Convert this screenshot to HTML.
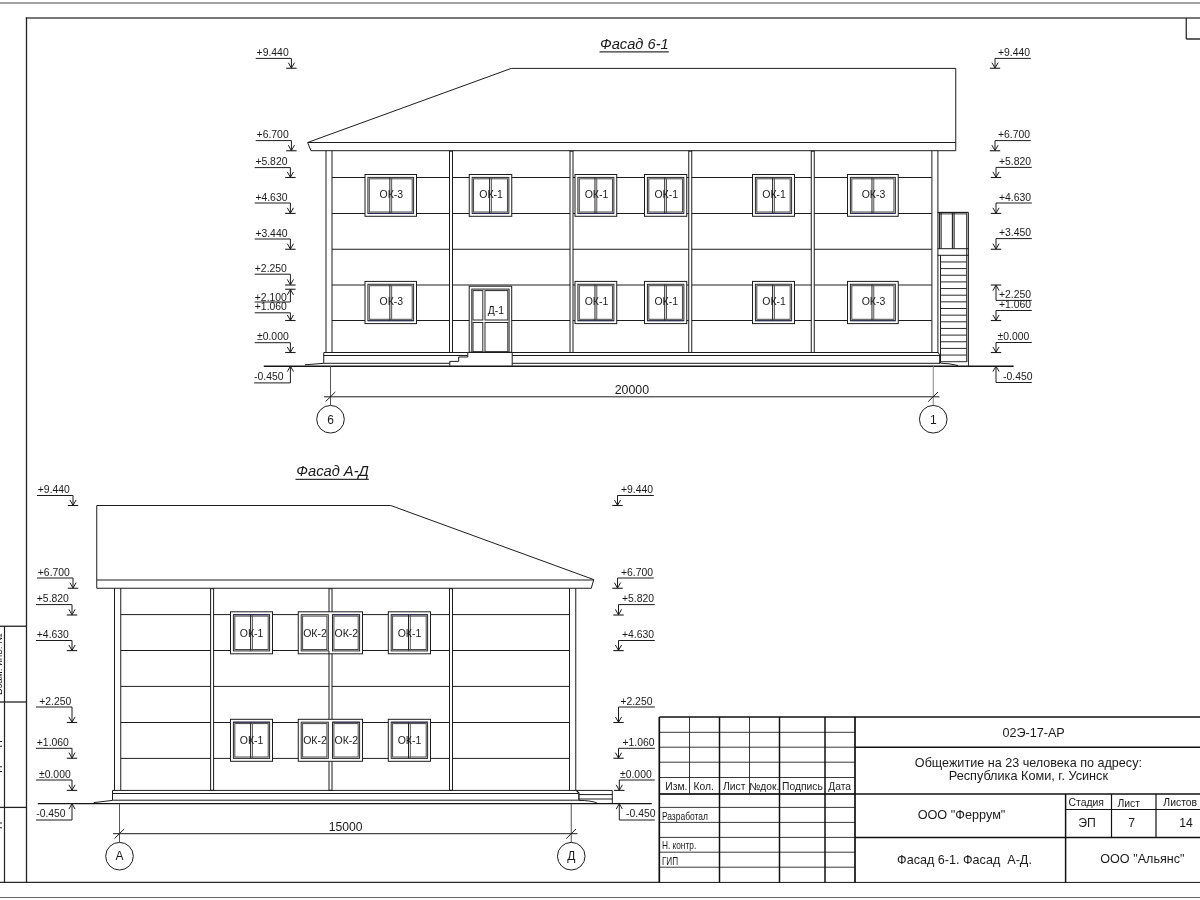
<!DOCTYPE html>
<html lang="ru"><head><meta charset="utf-8"><title>Фасады</title>
<style>
html,body{margin:0;padding:0;background:#fff;}
body{width:1200px;height:900px;overflow:hidden;}
svg{display:block;will-change:transform;}
svg text{font-family:"Liberation Sans",sans-serif;fill:#1a1a1a;}
</style></head><body>
<svg width="1200" height="900" viewBox="0 0 1200 900">
<line x1="0" y1="3" x2="1200" y2="3" stroke="#a3a3a3" stroke-width="1.9" />
<line x1="0" y1="897.5" x2="1200" y2="897.5" stroke="#666" stroke-width="1.1" />
<line x1="25.8" y1="18.1" x2="1200" y2="18.1" stroke="#4a4a4a" stroke-width="1.5" />
<line x1="26.5" y1="17.4" x2="26.5" y2="882.4" stroke="#222" stroke-width="1.3" />
<line x1="0" y1="882.4" x2="1200" y2="882.4" stroke="#2a2a2a" stroke-width="1.3" />
<line x1="1186.25" y1="18" x2="1186.25" y2="39" stroke="#1c1c1c" stroke-width="1.2" />
<line x1="1186.25" y1="39" x2="1200" y2="39" stroke="#1c1c1c" stroke-width="1.4" />
<line x1="4.5" y1="626.25" x2="4.5" y2="882.4" stroke="#222" stroke-width="1.2" />
<line x1="0" y1="626.25" x2="26.5" y2="626.25" stroke="#222" stroke-width="1.3" />
<line x1="0" y1="702" x2="26.5" y2="702" stroke="#222" stroke-width="1.3" />
<line x1="0" y1="807.4" x2="26.5" y2="807.4" stroke="#222" stroke-width="1.3" />
<text transform="translate(1.6,664) rotate(-90)" font-size="10" text-anchor="middle">Взам. инв. №</text>
<text transform="translate(0.4,755) rotate(-90)" font-size="10" text-anchor="middle">Подп. и дата</text>
<text transform="translate(0.4,845) rotate(-90)" font-size="10" text-anchor="middle">Инв. № подл.</text>
<path d="M307.6 142.5 L511.25 68.4 L955.75 68.4 L955.75 150.7 L311 150.7 Z" fill="none" stroke="#1c1c1c" stroke-width="1" stroke-linejoin="miter"/>
<line x1="308" y1="142.5" x2="955.75" y2="142.5" stroke="#1c1c1c" stroke-width="1" />
<line x1="332" y1="177.5" x2="931.75" y2="177.5" stroke="#1c1c1c" stroke-width="1" />
<line x1="332" y1="213.5" x2="931.75" y2="213.5" stroke="#1c1c1c" stroke-width="1" />
<line x1="332" y1="249.25" x2="931.75" y2="249.25" stroke="#1c1c1c" stroke-width="1" />
<line x1="332" y1="285" x2="931.75" y2="285" stroke="#1c1c1c" stroke-width="1" />
<line x1="332" y1="320.5" x2="931.75" y2="320.5" stroke="#1c1c1c" stroke-width="1" />
<line x1="326" y1="150.75" x2="326" y2="352.5" stroke="#1c1c1c" stroke-width="1" />
<line x1="332" y1="150.75" x2="332" y2="352.5" stroke="#1c1c1c" stroke-width="1" />
<line x1="931.9" y1="150.75" x2="931.9" y2="352.5" stroke="#1c1c1c" stroke-width="1" />
<line x1="937.9" y1="150.75" x2="937.9" y2="352.5" stroke="#1c1c1c" stroke-width="1" />
<rect x="449.5" y="151.2" width="3.0" height="201.3" fill="#fff" stroke="#1c1c1c" stroke-width="1"/>
<rect x="570" y="151.2" width="3" height="201.3" fill="#fff" stroke="#1c1c1c" stroke-width="1"/>
<rect x="688.75" y="151.2" width="3.0" height="201.3" fill="#fff" stroke="#1c1c1c" stroke-width="1"/>
<rect x="811.25" y="151.2" width="3.0" height="201.3" fill="#fff" stroke="#1c1c1c" stroke-width="1"/>
<rect x="365" y="174.5" width="51.5" height="41.8" fill="#fff" stroke="#1c1c1c" stroke-width="1"/>
<rect x="367.9" y="177.4" width="45.7" height="36.0" fill="none" stroke="#2a2a2a" stroke-width="1"/>
<rect x="369.3" y="178.8" width="42.9" height="33.2" fill="none" stroke="#484848" stroke-width="1"/>
<line x1="367.9" y1="213.4" x2="413.6" y2="213.4" stroke="#2b2b55" stroke-width="1" />
<line x1="389.85" y1="177.7" x2="389.85" y2="213.10000000000002" stroke="#222" stroke-width="1" />
<line x1="391.65" y1="177.7" x2="391.65" y2="213.10000000000002" stroke="#555" stroke-width="1" />
<text x="391.35" y="198.0" font-size="10.5" text-anchor="middle" >ОК-3</text>
<rect x="469.25" y="174.5" width="42.5" height="41.8" fill="#fff" stroke="#1c1c1c" stroke-width="1"/>
<rect x="472.15" y="177.4" width="36.7" height="36.0" fill="none" stroke="#2a2a2a" stroke-width="1"/>
<rect x="473.55" y="178.8" width="33.9" height="33.2" fill="none" stroke="#484848" stroke-width="1"/>
<line x1="472.15" y1="213.4" x2="508.85" y2="213.4" stroke="#2b2b55" stroke-width="1" />
<line x1="489.6" y1="177.7" x2="489.6" y2="213.10000000000002" stroke="#222" stroke-width="1" />
<line x1="491.4" y1="177.7" x2="491.4" y2="213.10000000000002" stroke="#555" stroke-width="1" />
<text x="491.1" y="198.0" font-size="10.5" text-anchor="middle" >ОК-1</text>
<rect x="575" y="174.5" width="41.75" height="41.8" fill="#fff" stroke="#1c1c1c" stroke-width="1"/>
<rect x="577.9" y="177.4" width="35.95" height="36.0" fill="none" stroke="#2a2a2a" stroke-width="1"/>
<rect x="579.3" y="178.8" width="33.15" height="33.2" fill="none" stroke="#484848" stroke-width="1"/>
<line x1="577.9" y1="213.4" x2="613.85" y2="213.4" stroke="#2b2b55" stroke-width="1" />
<line x1="594.975" y1="177.7" x2="594.975" y2="213.10000000000002" stroke="#222" stroke-width="1" />
<line x1="596.775" y1="177.7" x2="596.775" y2="213.10000000000002" stroke="#555" stroke-width="1" />
<text x="596.48" y="198.0" font-size="10.5" text-anchor="middle" >ОК-1</text>
<rect x="644.5" y="174.5" width="42.25" height="41.8" fill="#fff" stroke="#1c1c1c" stroke-width="1"/>
<rect x="647.4" y="177.4" width="36.45" height="36.0" fill="none" stroke="#2a2a2a" stroke-width="1"/>
<rect x="648.8" y="178.8" width="33.65" height="33.2" fill="none" stroke="#484848" stroke-width="1"/>
<line x1="647.4" y1="213.4" x2="683.85" y2="213.4" stroke="#2b2b55" stroke-width="1" />
<line x1="664.725" y1="177.7" x2="664.725" y2="213.10000000000002" stroke="#222" stroke-width="1" />
<line x1="666.525" y1="177.7" x2="666.525" y2="213.10000000000002" stroke="#555" stroke-width="1" />
<text x="666.23" y="198.0" font-size="10.5" text-anchor="middle" >ОК-1</text>
<rect x="752.5" y="174.5" width="42.0" height="41.8" fill="#fff" stroke="#1c1c1c" stroke-width="1"/>
<rect x="755.4" y="177.4" width="36.2" height="36.0" fill="none" stroke="#2a2a2a" stroke-width="1"/>
<rect x="756.8" y="178.8" width="33.4" height="33.2" fill="none" stroke="#484848" stroke-width="1"/>
<line x1="755.4" y1="213.4" x2="791.6" y2="213.4" stroke="#2b2b55" stroke-width="1" />
<line x1="772.6" y1="177.7" x2="772.6" y2="213.10000000000002" stroke="#222" stroke-width="1" />
<line x1="774.4" y1="177.7" x2="774.4" y2="213.10000000000002" stroke="#555" stroke-width="1" />
<text x="774.1" y="198.0" font-size="10.5" text-anchor="middle" >ОК-1</text>
<rect x="847.5" y="174.5" width="50.75" height="41.8" fill="#fff" stroke="#1c1c1c" stroke-width="1"/>
<rect x="850.4" y="177.4" width="44.95" height="36.0" fill="none" stroke="#2a2a2a" stroke-width="1"/>
<rect x="851.8" y="178.8" width="42.15" height="33.2" fill="none" stroke="#484848" stroke-width="1"/>
<line x1="850.4" y1="213.4" x2="895.35" y2="213.4" stroke="#2b2b55" stroke-width="1" />
<line x1="871.975" y1="177.7" x2="871.975" y2="213.10000000000002" stroke="#222" stroke-width="1" />
<line x1="873.775" y1="177.7" x2="873.775" y2="213.10000000000002" stroke="#555" stroke-width="1" />
<text x="873.48" y="198.0" font-size="10.5" text-anchor="middle" >ОК-3</text>
<rect x="365" y="281.4" width="51.5" height="42.2" fill="#fff" stroke="#1c1c1c" stroke-width="1"/>
<rect x="367.9" y="284.29999999999995" width="45.7" height="36.4" fill="none" stroke="#2a2a2a" stroke-width="1"/>
<rect x="369.3" y="285.7" width="42.9" height="33.6" fill="none" stroke="#484848" stroke-width="1"/>
<line x1="367.9" y1="320.70000000000005" x2="413.6" y2="320.70000000000005" stroke="#2b2b55" stroke-width="1" />
<line x1="389.85" y1="284.59999999999997" x2="389.85" y2="320.40000000000003" stroke="#222" stroke-width="1" />
<line x1="391.65" y1="284.59999999999997" x2="391.65" y2="320.40000000000003" stroke="#555" stroke-width="1" />
<text x="391.35" y="305.1" font-size="10.5" text-anchor="middle" >ОК-3</text>
<rect x="575" y="281.4" width="41.75" height="42.2" fill="#fff" stroke="#1c1c1c" stroke-width="1"/>
<rect x="577.9" y="284.29999999999995" width="35.95" height="36.4" fill="none" stroke="#2a2a2a" stroke-width="1"/>
<rect x="579.3" y="285.7" width="33.15" height="33.6" fill="none" stroke="#484848" stroke-width="1"/>
<line x1="577.9" y1="320.70000000000005" x2="613.85" y2="320.70000000000005" stroke="#2b2b55" stroke-width="1" />
<line x1="594.975" y1="284.59999999999997" x2="594.975" y2="320.40000000000003" stroke="#222" stroke-width="1" />
<line x1="596.775" y1="284.59999999999997" x2="596.775" y2="320.40000000000003" stroke="#555" stroke-width="1" />
<text x="596.48" y="305.1" font-size="10.5" text-anchor="middle" >ОК-1</text>
<rect x="644.5" y="281.4" width="42.25" height="42.2" fill="#fff" stroke="#1c1c1c" stroke-width="1"/>
<rect x="647.4" y="284.29999999999995" width="36.45" height="36.4" fill="none" stroke="#2a2a2a" stroke-width="1"/>
<rect x="648.8" y="285.7" width="33.65" height="33.6" fill="none" stroke="#484848" stroke-width="1"/>
<line x1="647.4" y1="320.70000000000005" x2="683.85" y2="320.70000000000005" stroke="#2b2b55" stroke-width="1" />
<line x1="664.725" y1="284.59999999999997" x2="664.725" y2="320.40000000000003" stroke="#222" stroke-width="1" />
<line x1="666.525" y1="284.59999999999997" x2="666.525" y2="320.40000000000003" stroke="#555" stroke-width="1" />
<text x="666.23" y="305.1" font-size="10.5" text-anchor="middle" >ОК-1</text>
<rect x="752.5" y="281.4" width="42.0" height="42.2" fill="#fff" stroke="#1c1c1c" stroke-width="1"/>
<rect x="755.4" y="284.29999999999995" width="36.2" height="36.4" fill="none" stroke="#2a2a2a" stroke-width="1"/>
<rect x="756.8" y="285.7" width="33.4" height="33.6" fill="none" stroke="#484848" stroke-width="1"/>
<line x1="755.4" y1="320.70000000000005" x2="791.6" y2="320.70000000000005" stroke="#2b2b55" stroke-width="1" />
<line x1="772.6" y1="284.59999999999997" x2="772.6" y2="320.40000000000003" stroke="#222" stroke-width="1" />
<line x1="774.4" y1="284.59999999999997" x2="774.4" y2="320.40000000000003" stroke="#555" stroke-width="1" />
<text x="774.1" y="305.1" font-size="10.5" text-anchor="middle" >ОК-1</text>
<rect x="847.5" y="281.4" width="50.75" height="42.2" fill="#fff" stroke="#1c1c1c" stroke-width="1"/>
<rect x="850.4" y="284.29999999999995" width="44.95" height="36.4" fill="none" stroke="#2a2a2a" stroke-width="1"/>
<rect x="851.8" y="285.7" width="42.15" height="33.6" fill="none" stroke="#484848" stroke-width="1"/>
<line x1="850.4" y1="320.70000000000005" x2="895.35" y2="320.70000000000005" stroke="#2b2b55" stroke-width="1" />
<line x1="871.975" y1="284.59999999999997" x2="871.975" y2="320.40000000000003" stroke="#222" stroke-width="1" />
<line x1="873.775" y1="284.59999999999997" x2="873.775" y2="320.40000000000003" stroke="#555" stroke-width="1" />
<text x="873.48" y="305.1" font-size="10.5" text-anchor="middle" >ОК-3</text>
<rect x="469.2" y="286.2" width="42.5" height="66.1" fill="#fff" stroke="#1c1c1c" stroke-width="1"/>
<rect x="471.8" y="289.1" width="37.3" height="63.2" fill="none" stroke="#222" stroke-width="1"/>
<rect x="473" y="290.6" width="9.8" height="29.4" fill="none" stroke="#2a2a2a" stroke-width="1"/>
<rect x="473" y="322.5" width="9.8" height="29.2" fill="none" stroke="#2a2a2a" stroke-width="1"/>
<rect x="485" y="290.6" width="22.8" height="29.4" fill="none" stroke="#2a2a2a" stroke-width="1"/>
<rect x="485" y="322.5" width="22.8" height="29.2" fill="none" stroke="#2a2a2a" stroke-width="1"/>
<text x="495.8" y="313.7" font-size="10.4" text-anchor="middle" >Д-1</text>
<line x1="323.75" y1="352.5" x2="467.8" y2="352.5" stroke="#1c1c1c" stroke-width="1" />
<line x1="512.2" y1="352.5" x2="938.5" y2="352.5" stroke="#1c1c1c" stroke-width="1" />
<line x1="323.75" y1="352.5" x2="323.75" y2="363.3" stroke="#1c1c1c" stroke-width="1" />
<line x1="323.75" y1="355.5" x2="467.5" y2="355.5" stroke="#1c1c1c" stroke-width="1" />
<line x1="512.2" y1="355.5" x2="940" y2="355.5" stroke="#1c1c1c" stroke-width="1" />
<line x1="323.75" y1="363.3" x2="449.8" y2="363.3" stroke="#1c1c1c" stroke-width="1" />
<line x1="512.2" y1="363.3" x2="940" y2="363.3" stroke="#1c1c1c" stroke-width="1" />
<line x1="940" y1="355" x2="940" y2="363.3" stroke="#111" stroke-width="1.6" />
<path d="M938 352.5 L940 355.5" fill="none" stroke="#1c1c1c" stroke-width="1" stroke-linejoin="miter"/>
<path d="M305 364.8 L323.75 363.3" fill="none" stroke="#1c1c1c" stroke-width="1" stroke-linejoin="miter"/>
<path d="M940.5 363.2 L949 363.8 L958 365.5" fill="none" stroke="#1c1c1c" stroke-width="1" stroke-linejoin="miter"/>
<path d="M467.8 352.4 L512.2 352.4 L512.2 365.8" fill="none" stroke="#1c1c1c" stroke-width="1" stroke-linejoin="miter"/>
<path d="M467.8 352.4 L467.8 357 L458.7 357 L458.7 361.4 L449.8 361.4 L449.8 365.8" fill="none" stroke="#1c1c1c" stroke-width="1" stroke-linejoin="miter"/>
<line x1="263.75" y1="366.3" x2="1013.6" y2="366.3" stroke="#151515" stroke-width="1.45" />
<line x1="937.7" y1="212.5" x2="968.5" y2="212.5" stroke="#1c1c1c" stroke-width="1.3" />
<line x1="939.5" y1="213.9" x2="966.8" y2="213.9" stroke="#444" stroke-width="1" />
<line x1="968.5" y1="212.5" x2="968.5" y2="366" stroke="#333" stroke-width="1" />
<line x1="966.8" y1="213.5" x2="966.8" y2="362" stroke="#222" stroke-width="1.2" />
<line x1="939.4" y1="213" x2="939.4" y2="248.7" stroke="#1e1e1e" stroke-width="1.1" />
<line x1="941.1" y1="213" x2="941.1" y2="248.7" stroke="#1e1e1e" stroke-width="1.1" />
<line x1="952.4" y1="213" x2="952.4" y2="248.7" stroke="#1e1e1e" stroke-width="1.1" />
<line x1="954.1" y1="213" x2="954.1" y2="248.7" stroke="#1e1e1e" stroke-width="1.1" />
<line x1="937.7" y1="248.7" x2="968.5" y2="248.7" stroke="#1c1c1c" stroke-width="1" />
<line x1="937.7" y1="255.3" x2="968.5" y2="255.3" stroke="#1c1c1c" stroke-width="1" />
<line x1="940.5" y1="255.3" x2="940.5" y2="363" stroke="#1c1c1c" stroke-width="1" />
<line x1="940.5" y1="261.95" x2="966.8" y2="261.95" stroke="#2a2a2a" stroke-width="1" />
<line x1="940.5" y1="268.6" x2="966.8" y2="268.6" stroke="#2a2a2a" stroke-width="1" />
<line x1="940.5" y1="275.25" x2="966.8" y2="275.25" stroke="#2a2a2a" stroke-width="1" />
<line x1="940.5" y1="281.9" x2="966.8" y2="281.9" stroke="#2a2a2a" stroke-width="1" />
<line x1="940.5" y1="288.55" x2="966.8" y2="288.55" stroke="#2a2a2a" stroke-width="1" />
<line x1="940.5" y1="295.2" x2="966.8" y2="295.2" stroke="#2a2a2a" stroke-width="1" />
<line x1="940.5" y1="301.85" x2="966.8" y2="301.85" stroke="#2a2a2a" stroke-width="1" />
<line x1="940.5" y1="308.5" x2="966.8" y2="308.5" stroke="#2a2a2a" stroke-width="1" />
<line x1="940.5" y1="315.15" x2="966.8" y2="315.15" stroke="#2a2a2a" stroke-width="1" />
<line x1="940.5" y1="321.8" x2="966.8" y2="321.8" stroke="#2a2a2a" stroke-width="1" />
<line x1="940.5" y1="328.45" x2="966.8" y2="328.45" stroke="#2a2a2a" stroke-width="1" />
<line x1="940.5" y1="335.1" x2="966.8" y2="335.1" stroke="#2a2a2a" stroke-width="1" />
<line x1="940.5" y1="341.75" x2="966.8" y2="341.75" stroke="#2a2a2a" stroke-width="1" />
<line x1="940.5" y1="348.4" x2="966.8" y2="348.4" stroke="#2a2a2a" stroke-width="1" />
<line x1="940.5" y1="355.05" x2="966.8" y2="355.05" stroke="#2a2a2a" stroke-width="1" />
<line x1="940.5" y1="361.7" x2="966.8" y2="361.7" stroke="#2a2a2a" stroke-width="1" />
<line x1="255.7" y1="58.4" x2="291.4" y2="58.4" stroke="#1c1c1c" stroke-width="1" />
<line x1="291.4" y1="58.4" x2="291.4" y2="68.25" stroke="#1c1c1c" stroke-width="1" />
<line x1="286.2" y1="68.25" x2="296.59999999999997" y2="68.25" stroke="#1c1c1c" stroke-width="1.1" />
<path d="M288.29999999999995 62.65 L291.4 68.05 L294.5 62.65" fill="none" stroke="#1c1c1c" stroke-width="1" stroke-linejoin="miter"/>
<text x="256.6" y="56.0" font-size="10.4" text-anchor="start" >+9.440</text>
<line x1="255.7" y1="140.6" x2="291.4" y2="140.6" stroke="#1c1c1c" stroke-width="1" />
<line x1="291.4" y1="140.6" x2="291.4" y2="150.75" stroke="#1c1c1c" stroke-width="1" />
<line x1="286.2" y1="150.75" x2="296.59999999999997" y2="150.75" stroke="#1c1c1c" stroke-width="1.1" />
<path d="M288.29999999999995 145.15 L291.4 150.55 L294.5 145.15" fill="none" stroke="#1c1c1c" stroke-width="1" stroke-linejoin="miter"/>
<text x="256.6" y="138.2" font-size="10.4" text-anchor="start" >+6.700</text>
<line x1="254.7" y1="167.6" x2="290.4" y2="167.6" stroke="#1c1c1c" stroke-width="1" />
<line x1="290.4" y1="167.6" x2="290.4" y2="177.5" stroke="#1c1c1c" stroke-width="1" />
<line x1="285.2" y1="177.5" x2="295.59999999999997" y2="177.5" stroke="#1c1c1c" stroke-width="1.1" />
<path d="M287.29999999999995 171.9 L290.4 177.3 L293.5 171.9" fill="none" stroke="#1c1c1c" stroke-width="1" stroke-linejoin="miter"/>
<text x="255.4" y="165.2" font-size="10.4" text-anchor="start" >+5.820</text>
<line x1="254.7" y1="203.0" x2="290.4" y2="203.0" stroke="#1c1c1c" stroke-width="1" />
<line x1="290.4" y1="203.0" x2="290.4" y2="213.4" stroke="#1c1c1c" stroke-width="1" />
<line x1="285.2" y1="213.4" x2="295.59999999999997" y2="213.4" stroke="#1c1c1c" stroke-width="1.1" />
<path d="M287.29999999999995 207.8 L290.4 213.20000000000002 L293.5 207.8" fill="none" stroke="#1c1c1c" stroke-width="1" stroke-linejoin="miter"/>
<text x="255.4" y="200.6" font-size="10.4" text-anchor="start" >+4.630</text>
<line x1="254.7" y1="239.0" x2="290.4" y2="239.0" stroke="#1c1c1c" stroke-width="1" />
<line x1="290.4" y1="239.0" x2="290.4" y2="249.25" stroke="#1c1c1c" stroke-width="1" />
<line x1="285.2" y1="249.25" x2="295.59999999999997" y2="249.25" stroke="#1c1c1c" stroke-width="1.1" />
<path d="M287.29999999999995 243.65 L290.4 249.05 L293.5 243.65" fill="none" stroke="#1c1c1c" stroke-width="1" stroke-linejoin="miter"/>
<text x="255.4" y="236.6" font-size="10.4" text-anchor="start" >+3.440</text>
<line x1="254.7" y1="274.2" x2="290.4" y2="274.2" stroke="#1c1c1c" stroke-width="1" />
<line x1="290.4" y1="274.2" x2="290.4" y2="285" stroke="#1c1c1c" stroke-width="1" />
<line x1="285.2" y1="285" x2="295.59999999999997" y2="285" stroke="#1c1c1c" stroke-width="1.1" />
<path d="M287.29999999999995 279.4 L290.4 284.8 L293.5 279.4" fill="none" stroke="#1c1c1c" stroke-width="1" stroke-linejoin="miter"/>
<text x="254.8" y="271.8" font-size="10.4" text-anchor="start" >+2.250</text>
<line x1="254.7" y1="312.8" x2="290.4" y2="312.8" stroke="#1c1c1c" stroke-width="1" />
<line x1="290.4" y1="312.8" x2="290.4" y2="320.5" stroke="#1c1c1c" stroke-width="1" />
<line x1="285.2" y1="320.5" x2="295.59999999999997" y2="320.5" stroke="#1c1c1c" stroke-width="1.1" />
<path d="M287.29999999999995 314.9 L290.4 320.3 L293.5 314.9" fill="none" stroke="#1c1c1c" stroke-width="1" stroke-linejoin="miter"/>
<text x="254.8" y="310.4" font-size="10.4" text-anchor="start" >+1.060</text>
<line x1="254.7" y1="342.7" x2="290.4" y2="342.7" stroke="#1c1c1c" stroke-width="1" />
<line x1="290.4" y1="342.7" x2="290.4" y2="352.5" stroke="#1c1c1c" stroke-width="1" />
<line x1="285.2" y1="352.5" x2="295.59999999999997" y2="352.5" stroke="#1c1c1c" stroke-width="1.1" />
<path d="M287.29999999999995 346.9 L290.4 352.3 L293.5 346.9" fill="none" stroke="#1c1c1c" stroke-width="1" stroke-linejoin="miter"/>
<text x="257" y="340.3" font-size="10.4" text-anchor="start" >±0.000</text>
<line x1="254.7" y1="302.0" x2="290.4" y2="302.0" stroke="#1c1c1c" stroke-width="1" />
<line x1="290.4" y1="302.0" x2="290.4" y2="289.25" stroke="#1c1c1c" stroke-width="1" />
<line x1="285.2" y1="289.25" x2="295.59999999999997" y2="289.25" stroke="#1c1c1c" stroke-width="1.1" />
<path d="M287.29999999999995 294.85 L290.4 289.45 L293.5 294.85" fill="none" stroke="#1c1c1c" stroke-width="1" stroke-linejoin="miter"/>
<text x="254.8" y="300.6" font-size="10.4" text-anchor="start" >+2.100</text>
<line x1="254.2" y1="382.9" x2="290.4" y2="382.9" stroke="#1c1c1c" stroke-width="1" />
<line x1="290.4" y1="382.9" x2="290.4" y2="366" stroke="#1c1c1c" stroke-width="1" />
<path d="M287.29999999999995 371.6 L290.4 366.2 L293.5 371.6" fill="none" stroke="#1c1c1c" stroke-width="1" stroke-linejoin="miter"/>
<text x="254" y="380.3" font-size="10.4" text-anchor="start" >-0.450</text>
<line x1="995" y1="58.4" x2="1030.8" y2="58.4" stroke="#1c1c1c" stroke-width="1" />
<line x1="995" y1="58.4" x2="995" y2="68.25" stroke="#1c1c1c" stroke-width="1" />
<line x1="989.8" y1="68.25" x2="1000.2" y2="68.25" stroke="#1c1c1c" stroke-width="1.1" />
<path d="M991.9 62.65 L995 68.05 L998.1 62.65" fill="none" stroke="#1c1c1c" stroke-width="1" stroke-linejoin="miter"/>
<text x="998" y="56.0" font-size="10.4" text-anchor="start" >+9.440</text>
<line x1="995" y1="140.6" x2="1030.8" y2="140.6" stroke="#1c1c1c" stroke-width="1" />
<line x1="995" y1="140.6" x2="995" y2="150.75" stroke="#1c1c1c" stroke-width="1" />
<line x1="989.8" y1="150.75" x2="1000.2" y2="150.75" stroke="#1c1c1c" stroke-width="1.1" />
<path d="M991.9 145.15 L995 150.55 L998.1 145.15" fill="none" stroke="#1c1c1c" stroke-width="1" stroke-linejoin="miter"/>
<text x="998" y="138.2" font-size="10.4" text-anchor="start" >+6.700</text>
<line x1="996" y1="167.4" x2="1031.8" y2="167.4" stroke="#1c1c1c" stroke-width="1" />
<line x1="996" y1="167.4" x2="996" y2="177.5" stroke="#1c1c1c" stroke-width="1" />
<line x1="990.8" y1="177.5" x2="1001.2" y2="177.5" stroke="#1c1c1c" stroke-width="1.1" />
<path d="M992.9 171.9 L996 177.3 L999.1 171.9" fill="none" stroke="#1c1c1c" stroke-width="1" stroke-linejoin="miter"/>
<text x="999" y="165.0" font-size="10.4" text-anchor="start" >+5.820</text>
<line x1="996" y1="203.0" x2="1031.8" y2="203.0" stroke="#1c1c1c" stroke-width="1" />
<line x1="996" y1="203.0" x2="996" y2="213.4" stroke="#1c1c1c" stroke-width="1" />
<line x1="990.8" y1="213.4" x2="1001.2" y2="213.4" stroke="#1c1c1c" stroke-width="1.1" />
<path d="M992.9 207.8 L996 213.20000000000002 L999.1 207.8" fill="none" stroke="#1c1c1c" stroke-width="1" stroke-linejoin="miter"/>
<text x="999" y="200.6" font-size="10.4" text-anchor="start" >+4.630</text>
<line x1="996" y1="238.6" x2="1031.8" y2="238.6" stroke="#1c1c1c" stroke-width="1" />
<line x1="996" y1="238.6" x2="996" y2="249.25" stroke="#1c1c1c" stroke-width="1" />
<line x1="990.8" y1="249.25" x2="1001.2" y2="249.25" stroke="#1c1c1c" stroke-width="1.1" />
<path d="M992.9 243.65 L996 249.05 L999.1 243.65" fill="none" stroke="#1c1c1c" stroke-width="1" stroke-linejoin="miter"/>
<text x="999" y="236.2" font-size="10.4" text-anchor="start" >+3.450</text>
<line x1="996" y1="310.5" x2="1031.8" y2="310.5" stroke="#1c1c1c" stroke-width="1" />
<line x1="996" y1="310.5" x2="996" y2="320.5" stroke="#1c1c1c" stroke-width="1" />
<line x1="990.8" y1="320.5" x2="1001.2" y2="320.5" stroke="#1c1c1c" stroke-width="1.1" />
<path d="M992.9 314.9 L996 320.3 L999.1 314.9" fill="none" stroke="#1c1c1c" stroke-width="1" stroke-linejoin="miter"/>
<text x="999" y="308.1" font-size="10.4" text-anchor="start" >+1.060</text>
<line x1="996" y1="342.5" x2="1031.8" y2="342.5" stroke="#1c1c1c" stroke-width="1" />
<line x1="996" y1="342.5" x2="996" y2="352.5" stroke="#1c1c1c" stroke-width="1" />
<line x1="990.8" y1="352.5" x2="1001.2" y2="352.5" stroke="#1c1c1c" stroke-width="1.1" />
<path d="M992.9 346.9 L996 352.3 L999.1 346.9" fill="none" stroke="#1c1c1c" stroke-width="1" stroke-linejoin="miter"/>
<text x="997.6" y="340.1" font-size="10.4" text-anchor="start" >±0.000</text>
<line x1="996" y1="300.4" x2="1031.8" y2="300.4" stroke="#1c1c1c" stroke-width="1" />
<line x1="996" y1="300.4" x2="996" y2="285" stroke="#1c1c1c" stroke-width="1" />
<line x1="990.8" y1="285" x2="1001.2" y2="285" stroke="#1c1c1c" stroke-width="1.1" />
<path d="M992.9 290.6 L996 285.2 L999.1 290.6" fill="none" stroke="#1c1c1c" stroke-width="1" stroke-linejoin="miter"/>
<text x="999" y="298.4" font-size="10.4" text-anchor="start" >+2.250</text>
<line x1="996" y1="382.5" x2="1031.8" y2="382.5" stroke="#1c1c1c" stroke-width="1" />
<line x1="996" y1="382.5" x2="996" y2="366" stroke="#1c1c1c" stroke-width="1" />
<path d="M992.9 371.6 L996 366.2 L999.1 371.6" fill="none" stroke="#1c1c1c" stroke-width="1" stroke-linejoin="miter"/>
<text x="1003" y="379.9" font-size="10.4" text-anchor="start" >-0.450</text>
<line x1="324" y1="396.8" x2="939.5" y2="396.8" stroke="#1c1c1c" stroke-width="1" />
<line x1="330.5" y1="366" x2="330.5" y2="405.5" stroke="#444" stroke-width="0.9" />
<line x1="933.25" y1="366" x2="933.25" y2="405.5" stroke="#777" stroke-width="0.9" />
<path d="M325.5 401.6 L335.3 392" fill="none" stroke="#1c1c1c" stroke-width="1" stroke-linejoin="miter"/>
<path d="M928.2 401.6 L938 392" fill="none" stroke="#1c1c1c" stroke-width="1" stroke-linejoin="miter"/>
<text x="631.9" y="393.8" font-size="12.4" text-anchor="middle" >20000</text>
<circle cx="330.5" cy="419.25" r="13.8" fill="#fff" stroke="#1c1c1c" stroke-width="1"/>
<text x="330.5" y="423.5" font-size="12" text-anchor="middle" >6</text>
<circle cx="933.25" cy="419.25" r="13.8" fill="#fff" stroke="#1c1c1c" stroke-width="1"/>
<text x="933.25" y="423.5" font-size="12" text-anchor="middle" >1</text>
<text x="600" y="48.8" font-size="14.7" text-anchor="start" font-style="italic">Фасад 6-1</text>
<line x1="599.5" y1="51.9" x2="668.8" y2="51.9" stroke="#333" stroke-width="1.2" />
<path d="M96.75 505.5 L390.75 505.5 L593.75 579.6 L591.25 588.25 L96.75 588.25 Z" fill="none" stroke="#1c1c1c" stroke-width="1" stroke-linejoin="miter"/>
<line x1="96.75" y1="580" x2="593.5" y2="580" stroke="#1c1c1c" stroke-width="1" />
<line x1="120.75" y1="614.6" x2="569.5" y2="614.6" stroke="#1c1c1c" stroke-width="1" />
<line x1="120.75" y1="650.5" x2="569.5" y2="650.5" stroke="#1c1c1c" stroke-width="1" />
<line x1="120.75" y1="686.4" x2="569.5" y2="686.4" stroke="#1c1c1c" stroke-width="1" />
<line x1="120.75" y1="722.5" x2="569.5" y2="722.5" stroke="#1c1c1c" stroke-width="1" />
<line x1="120.75" y1="758.4" x2="569.5" y2="758.4" stroke="#1c1c1c" stroke-width="1" />
<line x1="114.5" y1="588.25" x2="114.5" y2="790.3" stroke="#1c1c1c" stroke-width="1" />
<line x1="120.75" y1="588.25" x2="120.75" y2="790.3" stroke="#1c1c1c" stroke-width="1" />
<line x1="569.5" y1="588.25" x2="569.5" y2="790.3" stroke="#1c1c1c" stroke-width="1" />
<line x1="575.75" y1="588.25" x2="575.75" y2="790.3" stroke="#1c1c1c" stroke-width="1" />
<rect x="210.6" y="588.7" width="3.0" height="201.6" fill="#fff" stroke="#1c1c1c" stroke-width="1"/>
<rect x="329" y="588.7" width="3" height="201.6" fill="#fff" stroke="#1c1c1c" stroke-width="1"/>
<rect x="449.5" y="588.7" width="3.0" height="201.6" fill="#fff" stroke="#1c1c1c" stroke-width="1"/>
<rect x="230.5" y="611.8" width="42.0" height="42.0" fill="#fff" stroke="#1c1c1c" stroke-width="1"/>
<rect x="233.4" y="614.6999999999999" width="36.2" height="36.2" fill="none" stroke="#2a2a2a" stroke-width="1"/>
<rect x="234.8" y="616.0999999999999" width="33.4" height="33.4" fill="none" stroke="#484848" stroke-width="1"/>
<line x1="233.4" y1="614.6999999999999" x2="269.6" y2="614.6999999999999" stroke="#2b2b55" stroke-width="1" />
<line x1="250.6" y1="615.0" x2="250.6" y2="650.5999999999999" stroke="#222" stroke-width="1" />
<line x1="252.4" y1="615.0" x2="252.4" y2="650.5999999999999" stroke="#555" stroke-width="1" />
<text x="251.6" y="636.5" font-size="10.5" text-anchor="middle" >ОК-1</text>
<rect x="388.3" y="611.8" width="42.2" height="42.0" fill="#fff" stroke="#1c1c1c" stroke-width="1"/>
<rect x="391.2" y="614.6999999999999" width="36.4" height="36.2" fill="none" stroke="#2a2a2a" stroke-width="1"/>
<rect x="392.6" y="616.0999999999999" width="33.6" height="33.4" fill="none" stroke="#484848" stroke-width="1"/>
<line x1="391.2" y1="614.6999999999999" x2="427.6" y2="614.6999999999999" stroke="#2b2b55" stroke-width="1" />
<line x1="408.5" y1="615.0" x2="408.5" y2="650.5999999999999" stroke="#222" stroke-width="1" />
<line x1="410.29999999999995" y1="615.0" x2="410.29999999999995" y2="650.5999999999999" stroke="#555" stroke-width="1" />
<text x="409.5" y="636.5" font-size="10.5" text-anchor="middle" >ОК-1</text>
<rect x="298.25" y="611.8" width="64.25" height="42.0" fill="#fff" stroke="#1c1c1c" stroke-width="1"/>
<rect x="301.2" y="614.6999999999999" width="27.1" height="36.2" fill="none" stroke="#2a2a2a" stroke-width="1"/>
<rect x="302.59999999999997" y="616.0999999999999" width="24.3" height="33.4" fill="none" stroke="#484848" stroke-width="1"/>
<text x="315" y="636.5" font-size="10.5" text-anchor="middle" >ОК-2</text>
<rect x="332.5" y="614.6999999999999" width="27.1" height="36.2" fill="none" stroke="#2a2a2a" stroke-width="1"/>
<rect x="333.9" y="616.0999999999999" width="24.3" height="33.4" fill="none" stroke="#484848" stroke-width="1"/>
<line x1="332.5" y1="614.6999999999999" x2="359.6" y2="614.6999999999999" stroke="#2b2b55" stroke-width="1" />
<text x="346.3" y="636.5" font-size="10.5" text-anchor="middle" >ОК-2</text>
<rect x="230.5" y="719.3" width="42.0" height="42.0" fill="#fff" stroke="#1c1c1c" stroke-width="1"/>
<rect x="233.4" y="722.1999999999999" width="36.2" height="36.2" fill="none" stroke="#2a2a2a" stroke-width="1"/>
<rect x="234.8" y="723.5999999999999" width="33.4" height="33.4" fill="none" stroke="#484848" stroke-width="1"/>
<line x1="233.4" y1="722.1999999999999" x2="269.6" y2="722.1999999999999" stroke="#2b2b55" stroke-width="1" />
<line x1="250.6" y1="722.5" x2="250.6" y2="758.0999999999999" stroke="#222" stroke-width="1" />
<line x1="252.4" y1="722.5" x2="252.4" y2="758.0999999999999" stroke="#555" stroke-width="1" />
<text x="251.6" y="744.0" font-size="10.5" text-anchor="middle" >ОК-1</text>
<rect x="388.3" y="719.3" width="42.2" height="42.0" fill="#fff" stroke="#1c1c1c" stroke-width="1"/>
<rect x="391.2" y="722.1999999999999" width="36.4" height="36.2" fill="none" stroke="#2a2a2a" stroke-width="1"/>
<rect x="392.6" y="723.5999999999999" width="33.6" height="33.4" fill="none" stroke="#484848" stroke-width="1"/>
<line x1="391.2" y1="722.1999999999999" x2="427.6" y2="722.1999999999999" stroke="#2b2b55" stroke-width="1" />
<line x1="408.5" y1="722.5" x2="408.5" y2="758.0999999999999" stroke="#222" stroke-width="1" />
<line x1="410.29999999999995" y1="722.5" x2="410.29999999999995" y2="758.0999999999999" stroke="#555" stroke-width="1" />
<text x="409.5" y="744.0" font-size="10.5" text-anchor="middle" >ОК-1</text>
<rect x="298.25" y="719.3" width="64.25" height="42.0" fill="#fff" stroke="#1c1c1c" stroke-width="1"/>
<rect x="301.2" y="722.1999999999999" width="27.1" height="36.2" fill="none" stroke="#2a2a2a" stroke-width="1"/>
<rect x="302.59999999999997" y="723.5999999999999" width="24.3" height="33.4" fill="none" stroke="#484848" stroke-width="1"/>
<text x="315" y="744.0" font-size="10.5" text-anchor="middle" >ОК-2</text>
<rect x="332.5" y="722.1999999999999" width="27.1" height="36.2" fill="none" stroke="#2a2a2a" stroke-width="1"/>
<rect x="333.9" y="723.5999999999999" width="24.3" height="33.4" fill="none" stroke="#484848" stroke-width="1"/>
<line x1="332.5" y1="722.1999999999999" x2="359.6" y2="722.1999999999999" stroke="#2b2b55" stroke-width="1" />
<text x="346.3" y="744.0" font-size="10.5" text-anchor="middle" >ОК-2</text>
<line x1="329" y1="650.9" x2="329" y2="653.8" stroke="#1c1c1c" stroke-width="1" />
<line x1="112.5" y1="790.4" x2="612.3" y2="790.4" stroke="#1c1c1c" stroke-width="1" />
<line x1="112.5" y1="790.4" x2="112.5" y2="800.4" stroke="#1c1c1c" stroke-width="1" />
<line x1="112.5" y1="793.5" x2="578.2" y2="793.5" stroke="#1c1c1c" stroke-width="1" />
<line x1="112.5" y1="800.2" x2="578.9" y2="800.2" stroke="#1c1c1c" stroke-width="1" />
<path d="M576.3 790.4 L578.9 793 L578.9 800.2" fill="none" stroke="#111" stroke-width="1.3" stroke-linejoin="miter"/>
<line x1="578.9" y1="794.6" x2="612.3" y2="794.6" stroke="#1c1c1c" stroke-width="1" />
<line x1="578.9" y1="799" x2="612.3" y2="799" stroke="#1c1c1c" stroke-width="1" />
<line x1="612.3" y1="790.4" x2="612.3" y2="803.4" stroke="#1c1c1c" stroke-width="1" />
<path d="M93.75 802.6 L112.5 800.4" fill="none" stroke="#1c1c1c" stroke-width="1" stroke-linejoin="miter"/>
<path d="M578.9 800.4 Q590 800.4 596.8 802.8" fill="none" stroke="#1c1c1c" stroke-width="1"/>
<line x1="37.8" y1="803.6" x2="651.8" y2="803.6" stroke="#151515" stroke-width="1.45" />
<line x1="37" y1="495.5" x2="73" y2="495.5" stroke="#1c1c1c" stroke-width="1" />
<line x1="73" y1="495.5" x2="73" y2="505.5" stroke="#1c1c1c" stroke-width="1" />
<line x1="67.8" y1="505.5" x2="78.2" y2="505.5" stroke="#1c1c1c" stroke-width="1.1" />
<path d="M69.9 499.9 L73 505.3 L76.1 499.9" fill="none" stroke="#1c1c1c" stroke-width="1" stroke-linejoin="miter"/>
<text x="37.8" y="493.1" font-size="10.4" text-anchor="start" >+9.440</text>
<line x1="37" y1="578.0" x2="73" y2="578.0" stroke="#1c1c1c" stroke-width="1" />
<line x1="73" y1="578.0" x2="73" y2="588.25" stroke="#1c1c1c" stroke-width="1" />
<line x1="67.8" y1="588.25" x2="78.2" y2="588.25" stroke="#1c1c1c" stroke-width="1.1" />
<path d="M69.9 582.65 L73 588.05 L76.1 582.65" fill="none" stroke="#1c1c1c" stroke-width="1" stroke-linejoin="miter"/>
<text x="37.8" y="575.6" font-size="10.4" text-anchor="start" >+6.700</text>
<line x1="36" y1="604.6" x2="72" y2="604.6" stroke="#1c1c1c" stroke-width="1" />
<line x1="72" y1="604.6" x2="72" y2="615" stroke="#1c1c1c" stroke-width="1" />
<line x1="66.8" y1="615" x2="77.2" y2="615" stroke="#1c1c1c" stroke-width="1.1" />
<path d="M68.9 609.4 L72 614.8 L75.1 609.4" fill="none" stroke="#1c1c1c" stroke-width="1" stroke-linejoin="miter"/>
<text x="36.8" y="602.2" font-size="10.4" text-anchor="start" >+5.820</text>
<line x1="36" y1="640.5" x2="72" y2="640.5" stroke="#1c1c1c" stroke-width="1" />
<line x1="72" y1="640.5" x2="72" y2="650.6" stroke="#1c1c1c" stroke-width="1" />
<line x1="66.8" y1="650.6" x2="77.2" y2="650.6" stroke="#1c1c1c" stroke-width="1.1" />
<path d="M68.9 645.0 L72 650.4 L75.1 645.0" fill="none" stroke="#1c1c1c" stroke-width="1" stroke-linejoin="miter"/>
<text x="36.8" y="638.1" font-size="10.4" text-anchor="start" >+4.630</text>
<line x1="36" y1="707.0" x2="72" y2="707.0" stroke="#1c1c1c" stroke-width="1" />
<line x1="72" y1="707.0" x2="72" y2="722.5" stroke="#1c1c1c" stroke-width="1" />
<line x1="66.8" y1="722.5" x2="77.2" y2="722.5" stroke="#1c1c1c" stroke-width="1.1" />
<path d="M68.9 716.9 L72 722.3 L75.1 716.9" fill="none" stroke="#1c1c1c" stroke-width="1" stroke-linejoin="miter"/>
<text x="39.2" y="704.6" font-size="10.4" text-anchor="start" >+2.250</text>
<line x1="36" y1="748.3" x2="72" y2="748.3" stroke="#1c1c1c" stroke-width="1" />
<line x1="72" y1="748.3" x2="72" y2="758.25" stroke="#1c1c1c" stroke-width="1" />
<line x1="66.8" y1="758.25" x2="77.2" y2="758.25" stroke="#1c1c1c" stroke-width="1.1" />
<path d="M68.9 752.65 L72 758.05 L75.1 752.65" fill="none" stroke="#1c1c1c" stroke-width="1" stroke-linejoin="miter"/>
<text x="36.8" y="745.9" font-size="10.4" text-anchor="start" >+1.060</text>
<line x1="36" y1="780.0" x2="72" y2="780.0" stroke="#1c1c1c" stroke-width="1" />
<line x1="72" y1="780.0" x2="72" y2="790.4" stroke="#1c1c1c" stroke-width="1" />
<line x1="66.8" y1="790.4" x2="77.2" y2="790.4" stroke="#1c1c1c" stroke-width="1.1" />
<path d="M68.9 784.8 L72 790.1999999999999 L75.1 784.8" fill="none" stroke="#1c1c1c" stroke-width="1" stroke-linejoin="miter"/>
<text x="39" y="777.6" font-size="10.4" text-anchor="start" >±0.000</text>
<line x1="36" y1="820.0" x2="72" y2="820.0" stroke="#1c1c1c" stroke-width="1" />
<line x1="72" y1="820.0" x2="72" y2="803.5" stroke="#1c1c1c" stroke-width="1" />
<path d="M68.9 809.1 L72 803.7 L75.1 809.1" fill="none" stroke="#1c1c1c" stroke-width="1" stroke-linejoin="miter"/>
<text x="36.2" y="817.4" font-size="10.4" text-anchor="start" >-0.450</text>
<line x1="617.5" y1="495.5" x2="653.8" y2="495.5" stroke="#1c1c1c" stroke-width="1" />
<line x1="617.5" y1="495.5" x2="617.5" y2="505.5" stroke="#1c1c1c" stroke-width="1" />
<line x1="612.3" y1="505.5" x2="622.7" y2="505.5" stroke="#1c1c1c" stroke-width="1.1" />
<path d="M614.4 499.9 L617.5 505.3 L620.6 499.9" fill="none" stroke="#1c1c1c" stroke-width="1" stroke-linejoin="miter"/>
<text x="621" y="493.1" font-size="10.4" text-anchor="start" >+9.440</text>
<line x1="617.5" y1="578.0" x2="653.8" y2="578.0" stroke="#1c1c1c" stroke-width="1" />
<line x1="617.5" y1="578.0" x2="617.5" y2="588.25" stroke="#1c1c1c" stroke-width="1" />
<line x1="612.3" y1="588.25" x2="622.7" y2="588.25" stroke="#1c1c1c" stroke-width="1.1" />
<path d="M614.4 582.65 L617.5 588.05 L620.6 582.65" fill="none" stroke="#1c1c1c" stroke-width="1" stroke-linejoin="miter"/>
<text x="621" y="575.6" font-size="10.4" text-anchor="start" >+6.700</text>
<line x1="618.5" y1="604.6" x2="654.8" y2="604.6" stroke="#1c1c1c" stroke-width="1" />
<line x1="618.5" y1="604.6" x2="618.5" y2="615" stroke="#1c1c1c" stroke-width="1" />
<line x1="613.3" y1="615" x2="623.7" y2="615" stroke="#1c1c1c" stroke-width="1.1" />
<path d="M615.4 609.4 L618.5 614.8 L621.6 609.4" fill="none" stroke="#1c1c1c" stroke-width="1" stroke-linejoin="miter"/>
<text x="622" y="602.2" font-size="10.4" text-anchor="start" >+5.820</text>
<line x1="618.5" y1="640.5" x2="654.8" y2="640.5" stroke="#1c1c1c" stroke-width="1" />
<line x1="618.5" y1="640.5" x2="618.5" y2="650.6" stroke="#1c1c1c" stroke-width="1" />
<line x1="613.3" y1="650.6" x2="623.7" y2="650.6" stroke="#1c1c1c" stroke-width="1.1" />
<path d="M615.4 645.0 L618.5 650.4 L621.6 645.0" fill="none" stroke="#1c1c1c" stroke-width="1" stroke-linejoin="miter"/>
<text x="622" y="638.1" font-size="10.4" text-anchor="start" >+4.630</text>
<line x1="618.5" y1="707.0" x2="654.8" y2="707.0" stroke="#1c1c1c" stroke-width="1" />
<line x1="618.5" y1="707.0" x2="618.5" y2="722.5" stroke="#1c1c1c" stroke-width="1" />
<line x1="613.3" y1="722.5" x2="623.7" y2="722.5" stroke="#1c1c1c" stroke-width="1.1" />
<path d="M615.4 716.9 L618.5 722.3 L621.6 716.9" fill="none" stroke="#1c1c1c" stroke-width="1" stroke-linejoin="miter"/>
<text x="620.4" y="704.6" font-size="10.4" text-anchor="start" >+2.250</text>
<line x1="618.5" y1="748.3" x2="654.8" y2="748.3" stroke="#1c1c1c" stroke-width="1" />
<line x1="618.5" y1="748.3" x2="618.5" y2="758.25" stroke="#1c1c1c" stroke-width="1" />
<line x1="613.3" y1="758.25" x2="623.7" y2="758.25" stroke="#1c1c1c" stroke-width="1.1" />
<path d="M615.4 752.65 L618.5 758.05 L621.6 752.65" fill="none" stroke="#1c1c1c" stroke-width="1" stroke-linejoin="miter"/>
<text x="622.5" y="745.9" font-size="10.4" text-anchor="start" >+1.060</text>
<line x1="619.3" y1="780.0" x2="654.8" y2="780.0" stroke="#1c1c1c" stroke-width="1" />
<line x1="619.3" y1="780.0" x2="619.3" y2="790.4" stroke="#1c1c1c" stroke-width="1" />
<line x1="614.0999999999999" y1="790.4" x2="624.5" y2="790.4" stroke="#1c1c1c" stroke-width="1.1" />
<path d="M616.1999999999999 784.8 L619.3 790.1999999999999 L622.4 784.8" fill="none" stroke="#1c1c1c" stroke-width="1" stroke-linejoin="miter"/>
<text x="620" y="777.6" font-size="10.4" text-anchor="start" >±0.000</text>
<line x1="619.3" y1="820.0" x2="654.8" y2="820.0" stroke="#1c1c1c" stroke-width="1" />
<line x1="619.3" y1="820.0" x2="619.3" y2="803.5" stroke="#1c1c1c" stroke-width="1" />
<path d="M616.1999999999999 809.1 L619.3 803.7 L622.4 809.1" fill="none" stroke="#1c1c1c" stroke-width="1" stroke-linejoin="miter"/>
<text x="626" y="817.4" font-size="10.4" text-anchor="start" >-0.450</text>
<line x1="113" y1="833.7" x2="577.5" y2="833.7" stroke="#1c1c1c" stroke-width="1" />
<line x1="119.5" y1="803.5" x2="119.5" y2="842.5" stroke="#444" stroke-width="0.9" />
<line x1="571.25" y1="803.5" x2="571.25" y2="842.5" stroke="#444" stroke-width="0.9" />
<path d="M114.5 838.5 L124.2 829" fill="none" stroke="#1c1c1c" stroke-width="1" stroke-linejoin="miter"/>
<path d="M566.3 838.5 L576 829" fill="none" stroke="#1c1c1c" stroke-width="1" stroke-linejoin="miter"/>
<text x="345.6" y="831.2" font-size="12.2" text-anchor="middle" >15000</text>
<circle cx="119.5" cy="856.2" r="13.8" fill="#fff" stroke="#1c1c1c" stroke-width="1"/>
<text x="119.5" y="860.4" font-size="12" text-anchor="middle" >А</text>
<circle cx="571.25" cy="856.2" r="13.8" fill="#fff" stroke="#1c1c1c" stroke-width="1"/>
<text x="571.25" y="860.4" font-size="12" text-anchor="middle" >Д</text>
<text x="296.3" y="475.8" font-size="14.7" text-anchor="start" font-style="italic">Фасад А-Д</text>
<line x1="295.5" y1="479.3" x2="368.8" y2="479.3" stroke="#333" stroke-width="1.2" />
<rect x="659.3" y="717" width="541" height="164.6" fill="#fff"/>
<line x1="659.3" y1="732.3" x2="855" y2="732.3" stroke="#222" stroke-width="0.9" />
<line x1="659.3" y1="747.2" x2="855" y2="747.2" stroke="#222" stroke-width="0.9" />
<line x1="659.3" y1="762.2" x2="855" y2="762.2" stroke="#222" stroke-width="0.9" />
<line x1="659.3" y1="777.5" x2="855" y2="777.5" stroke="#222" stroke-width="0.9" />
<line x1="659.3" y1="794" x2="855" y2="794" stroke="#222" stroke-width="0.9" />
<line x1="659.3" y1="807.4" x2="855" y2="807.4" stroke="#222" stroke-width="0.9" />
<line x1="659.3" y1="822.4" x2="855" y2="822.4" stroke="#222" stroke-width="0.9" />
<line x1="659.3" y1="837.4" x2="855" y2="837.4" stroke="#222" stroke-width="0.9" />
<line x1="659.3" y1="852.2" x2="855" y2="852.2" stroke="#222" stroke-width="0.9" />
<line x1="659.3" y1="867.2" x2="855" y2="867.2" stroke="#222" stroke-width="0.9" />
<line x1="659.3" y1="794" x2="855" y2="794" stroke="#111" stroke-width="1.5" />
<line x1="659.3" y1="717" x2="659.3" y2="882.6" stroke="#111" stroke-width="1.7" />
<line x1="719.5" y1="717" x2="719.5" y2="882.6" stroke="#111" stroke-width="1.5" />
<line x1="779.5" y1="717" x2="779.5" y2="882.6" stroke="#111" stroke-width="1.5" />
<line x1="825" y1="717" x2="825" y2="882.6" stroke="#111" stroke-width="1.5" />
<line x1="855" y1="717" x2="855" y2="882.6" stroke="#111" stroke-width="1.7" />
<line x1="689.5" y1="717" x2="689.5" y2="794" stroke="#222" stroke-width="0.9" />
<line x1="749.5" y1="717" x2="749.5" y2="794" stroke="#222" stroke-width="0.9" />
<line x1="659.3" y1="717" x2="1200" y2="717" stroke="#111" stroke-width="1.7" />
<line x1="855" y1="747.2" x2="1200" y2="747.2" stroke="#111" stroke-width="1.5" />
<line x1="855" y1="794" x2="1200" y2="794" stroke="#111" stroke-width="1.5" />
<line x1="855" y1="837.4" x2="1200" y2="837.4" stroke="#111" stroke-width="1.5" />
<line x1="1065.6" y1="794" x2="1065.6" y2="882.6" stroke="#111" stroke-width="1.5" />
<line x1="1111.5" y1="794" x2="1111.5" y2="837.4" stroke="#111" stroke-width="1.2" />
<line x1="1156" y1="794" x2="1156" y2="837.4" stroke="#111" stroke-width="1.2" />
<line x1="1065.6" y1="809.5" x2="1200" y2="809.5" stroke="#111" stroke-width="1.2" />
<text x="676.4" y="789.5" font-size="10.3" text-anchor="middle" >Изм.</text>
<text x="703.8" y="789.5" font-size="10.3" text-anchor="middle" >Кол.</text>
<text x="734.3" y="789.5" font-size="10.3" text-anchor="middle" >Лист</text>
<text x="764.3" y="789.5" font-size="10.3" text-anchor="middle" >№док.</text>
<text x="802.4" y="789.5" font-size="10.3" text-anchor="middle" >Подпись</text>
<text x="839.6" y="789.5" font-size="10.3" text-anchor="middle" >Дата</text>
<text x="661.9" y="820" font-size="11" text-anchor="start" textLength="46" lengthAdjust="spacingAndGlyphs">Разработал</text>
<text x="661.9" y="848.8" font-size="11" text-anchor="start" textLength="34.3" lengthAdjust="spacingAndGlyphs">Н. контр.</text>
<text x="661.9" y="865" font-size="11" text-anchor="start" textLength="16.2" lengthAdjust="spacingAndGlyphs">ГИП</text>
<text x="1033.6" y="736.7" font-size="12.6" text-anchor="middle" >02Э-17-АР</text>
<text x="1028.4" y="766.8" font-size="12.6" text-anchor="middle" >Общежитие на 23 человека по адресу:</text>
<text x="1028.4" y="779.6" font-size="12.7" text-anchor="middle" >Республика Коми, г. Усинск</text>
<text x="961.5" y="819.2" font-size="12.7" text-anchor="middle" >ООО "Феррум"</text>
<text x="964.5" y="864.2" font-size="12.6" text-anchor="middle" style="white-space:pre">Фасад 6-1. Фасад  А-Д.</text>
<text x="1142.4" y="863.2" font-size="12.6" text-anchor="middle" >ООО "Альянс"</text>
<text x="1086.3" y="806" font-size="10.4" text-anchor="middle" >Стадия</text>
<text x="1128.8" y="807" font-size="10.4" text-anchor="middle" >Лист</text>
<text x="1180.2" y="806" font-size="10.4" text-anchor="middle" >Листов</text>
<text x="1087" y="826.8" font-size="12.2" text-anchor="middle" >ЭП</text>
<text x="1131.6" y="826.8" font-size="12.2" text-anchor="middle" >7</text>
<text x="1186" y="826.8" font-size="12.2" text-anchor="middle" >14</text>
</svg>
</body></html>
